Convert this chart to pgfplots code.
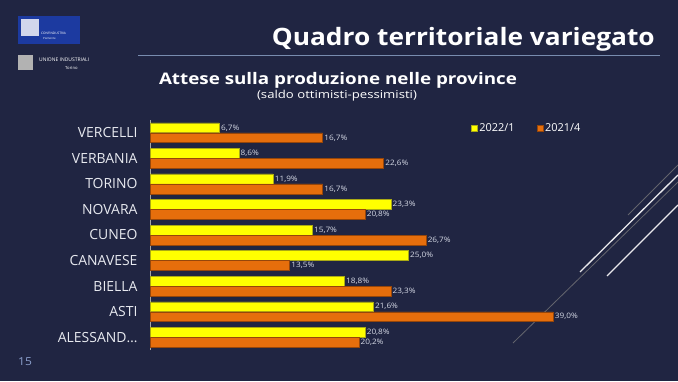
\documentclass[border=0pt]{standalone}
\usepackage{pgfplots}
\pgfplotsset{compat=1.18}
\usepackage{fontspec}
\setmainfont{Open Sans}
\definecolor{bg}{RGB}{32,37,66}
\definecolor{ybar}{RGB}{255,255,0}
\definecolor{yedge}{RGB}{170,170,20}
\definecolor{obar}{RGB}{230,110,12}
\definecolor{oedge}{RGB}{150,70,10}
\definecolor{lbl}{RGB}{214,218,230}
\definecolor{cat}{RGB}{232,234,240}
\definecolor{rule}{RGB}{120,140,175}
\definecolor{pnum}{RGB}{140,160,205}
\definecolor{logoblue}{RGB}{28,58,160}
\begin{document}
\begin{tikzpicture}[x=1bp,y=1bp]
\useasboundingbox (0,0) rectangle (678,381);
\fill[bg] (0,0) rectangle (678,381);
% logos
\fill[logoblue] (18,381-16) rectangle (80,381-44);
\fill[white!80!logoblue] (21,381-19) rectangle (39,381-36);
\node[anchor=west,inner sep=0,text=white,font=\fontsize{3.2}{4}\selectfont] at (41,381-33) {CONFINDUSTRIA};
\node[anchor=west,inner sep=0,text=white,font=\fontsize{2.8}{4}\selectfont] at (43,381-38) {Piemonte};
\fill[gray!60] (18,381-55) rectangle (33,381-70);
\node[anchor=west,inner sep=0,text=white,font=\fontsize{5}{6}\selectfont] at (39,381-60) {UNIONE INDUSTRIALI};
\node[anchor=west,inner sep=0,text=white,font=\fontsize{4.2}{5}\selectfont] at (65,381-68) {Torino};
% titles
\node[anchor=base east,inner sep=0,text=white,xscale=1.1,font=\fontsize{24}{28}\selectfont\bfseries] at (655,381-45) {Quadro territoriale variegato};
\draw[rule,line width=1bp] (138,381-55) -- (660,381-55);
\node[anchor=base,inner sep=0,text=white,xscale=1.18,font=\fontsize{16}{19}\selectfont\bfseries] at (338,381-84) {Attese sulla produzione nelle province};
\node[anchor=base,inner sep=0,text=white,xscale=1.2,font=\fontsize{11}{13}\selectfont] at (337,381-98) {(saldo ottimisti-pessimisti)};
\node[anchor=center,inner sep=0,text=pnum,xscale=1.1,font=\fontsize{11}{13}\selectfont] at (25,381-362) {15};
% decorative lines
\draw[gray!70!bg,line width=0.8bp] (513,381-343) -- (678,381-182);
\draw[gray!70!bg,line width=0.8bp] (628,381-215) -- (678,381-165);
\draw[white!90!bg,line width=1.3bp] (580,381-272) -- (678,381-175);
\draw[white!90!bg,line width=1.3bp] (607,381-276) -- (678,381-205);
\begin{axis}[
  at={(150bp,31bp)}, anchor=south west,
  scale only axis, width=516.7bp, height=230bp,
  xbar, bar width=9.8bp,
  xmin=0, xmax=50, ymin=-0.5, ymax=8.5,
  axis x line=none,
  axis y line*=left,
  y axis line style={draw=gray!70,-,line width=0.6bp},
  ytick={0,1,2,3,4,5,6,7,8},
  yticklabels={{ALESSAND…},{ASTI},{BIELLA},{CANAVESE},{CUNEO},{NOVARA},{TORINO},{VERBANIA},{VERCELLI}},
  major tick length=0pt,
  yticklabel style={text=cat,font=\fontsize{14}{16}\selectfont,xshift=-9bp},
  nodes near coords={\pgfmathprintnumber{\pgfplotspointmeta}\%},
  nodes near coords style={text=lbl,font=\fontsize{7.5}{9}\selectfont,xscale=1.1,anchor=west,inner sep=1.5bp},
  /pgf/number format/.cd, use comma, fixed, fixed zerofill, precision=1, assume math mode=true, /pgfplots/.cd,
  legend style={draw=none,fill=none,text=white,font=\fontsize{11}{13}\selectfont,
    at={(0.615,0.965)},anchor=west,legend columns=2,
    /tikz/every even column/.append style={column sep=20bp}},
  legend image code/.code={\fill[#1] (0,-3bp) rectangle (6bp,3bp);},
  clip=false,
]
\addplot[fill=ybar,draw=yedge,bar shift=5bp] coordinates {
 (20.8,0) (21.6,1) (18.8,2) (25.0,3) (15.7,4) (23.3,5) (11.9,6) (8.6,7) (6.7,8)};
\addplot[fill=obar,draw=oedge,bar shift=-5bp] coordinates {
 (20.2,0) (39.0,1) (23.3,2) (13.5,3) (26.7,4) (20.8,5) (16.7,6) (22.6,7) (16.7,8)};
\legend{2022/1,2021/4}
\end{axis}
\end{tikzpicture}
\end{document}
